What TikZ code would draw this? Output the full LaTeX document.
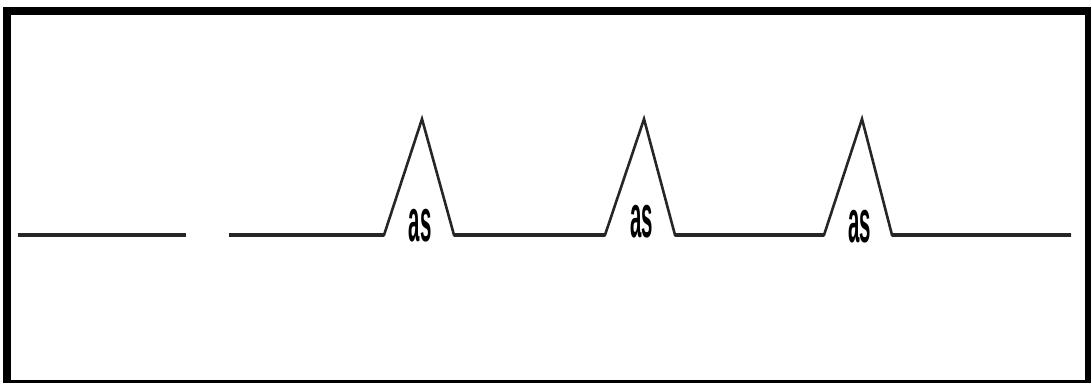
\documentclass[tikz,border=0pt]{standalone}
\usepackage{fontspec}
\setmainfont{Liberation Sans}
\begin{document}
\begin{tikzpicture}[x=1pt,y=-1pt,
  wave/.style={line width=2.6pt,line join=miter,black!85},
  lbl/.style={inner sep=0pt,font=\fontsize{60}{60}\selectfont\bfseries},
]
\useasboundingbox (0,0) rectangle (1091,383);
\fill[white] (0,0) rectangle (1091,383);
\fill[black] (3,7) rectangle (1091,383);
\fill[white] (11,15) rectangle (1085,380);
% coordinates
\coordinate (a0) at (18,235);
\coordinate (a1) at (186,235);
\coordinate (b0) at (229,235);
\coordinate (p1l) at (384,235);
\coordinate (p1t) at (422,119);
\coordinate (p1r) at (454,235);
\coordinate (p2l) at (605,235);
\coordinate (p2t) at (644,119);
\coordinate (p2r) at (675,235);
\coordinate (p3l) at (824,235);
\coordinate (p3t) at (862,119);
\coordinate (p3r) at (892,235);
\coordinate (e) at (1071,235);
\draw[wave,line width=3.4pt] (a0) -- (a1);
\draw[wave] (b0) -- (p1l) -- (p1t) -- (p1r) -- (p2l) -- (p2t) -- (p2r) -- (p3l) -- (p3t) -- (p3r) -- (e);
\draw[wave,line width=3.4pt] (b0) -- (p1l) (p1r) -- (p2l) (p2r) -- (p3l) (p3r) -- (e);
\node[lbl] (t1) at (420,226) {\scalebox{0.34}[1]{as}};
\node[lbl] (t2) at (641.5,222) {\scalebox{0.34}[1]{as}};
\node[lbl] (t3) at (859.5,227) {\scalebox{0.34}[1]{as}};
\end{tikzpicture}
\end{document}
